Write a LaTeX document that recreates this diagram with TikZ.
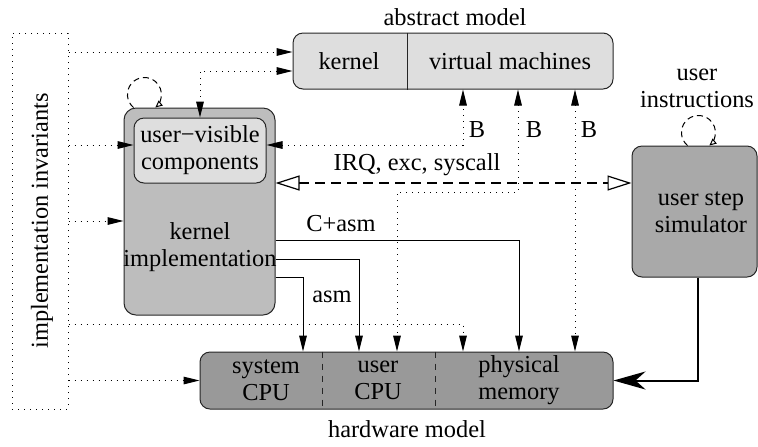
\documentclass[tikz,border=0pt]{standalone}
\usepackage{fontspec}
\newfontfamily\tms{Liberation Serif}
\usetikzlibrary{arrows.meta}

\definecolor{lightfill}{HTML}{DEDEDE}
\definecolor{kernfill}{HTML}{BDBDBD}
\definecolor{simfill}{HTML}{A9A9A9}
\definecolor{hwfill}{HTML}{999999}

\begin{document}
\begin{tikzpicture}[x=0.5pt,y=0.5pt,
  font=\tms\fontsize{12.2}{13.6}\selectfont,
  box/.style={draw=black!85, line width=0.5pt, rounded corners=5pt, inner sep=0pt},
  txt/.style={align=center, inner sep=0pt},
  dots/.style={line width=0.5pt, dash pattern=on 0.5pt off 2.5pt},
  fhead/.style={-{Triangle[length=8pt,width=3.8pt]}},
  bhead/.style={{Triangle[length=8pt,width=3.8pt]}-{Triangle[length=8pt,width=3.8pt]}},
  flow/.style={line width=0.5pt, -{Triangle[length=8pt,width=3.8pt]}},
  loopline/.style={line width=0.5pt, dash pattern=on 3pt off 2pt, -{Triangle[open,length=3.5pt,width=3.2pt]}}
]
\useasboundingbox (0,0) rectangle (758,-446);

% boxes
\node[box, fill=lightfill, minimum width=160pt, minimum height=28pt] (absm) at (453,-61) {};
\node[box, fill=kernfill, rounded corners=6pt, minimum width=75.5pt, minimum height=103.5pt] (kimpl) at (199.5,-211.5) {};
\node[box, fill=lightfill, align=center, minimum width=66pt, minimum height=32.5pt] (uvc) at (200,-150.5) {user−visible\\components};
\node[box, fill=simfill, minimum width=62.5pt, minimum height=65.5pt] (uss) at (694.5,-211.5) {};
\node[box, fill=hwfill, minimum width=206.5pt, minimum height=28.5pt] (hw) at (406.5,-380.5) {};
\node[draw, dots, inner sep=0pt, minimum width=28pt, minimum height=188pt] (inv) at (40,-221) {};

% partitions
\draw[line width=0.5pt, black!85] (absm.north -| 407,0) -- (absm.south -| 407,0);
\draw[line width=0.5pt, black!85, dash pattern=on 3pt off 3pt] (hw.north -| 322,0) -- (hw.south -| 322,0);
\draw[line width=0.5pt, black!85, dash pattern=on 3pt off 3pt] (hw.north -| 435,0) -- (hw.south -| 435,0);

% texts
\node[txt] (absmlabel) at (455,-17) {abstract model};
\node[txt] (kern) at (349,-61) {kernel};
\node[txt] (vm) at (510,-61) {virtual machines};
\node[txt] (kimpltxt) at (200,-247) {kernel\\implementation};
\node[txt] (usstxt) at (701,-212) {user step\\simulator};
\node[txt] (uinstr) at (697,-88) {user\\instructions};
\node[txt] (syscpu) at (266,-380) {system\\CPU};
\node[txt] (usrcpu) at (378,-380) {user\\CPU};
\node[txt] (phys) at (519,-380) {physical\\memory};
\node[txt] (hwlabel) at (407,-429) {hardware model};
\node[txt, rotate=90] (invtxt) at (42,-221) {implementation invariants};
\node[txt] (b1) at (477,-130) {B};
\node[txt] (b2) at (534,-130) {B};
\node[txt] (b3) at (589,-130) {B};
\node[txt] (irq) at (417,-165) {IRQ, exc, syscall};
\node[txt] (casm) at (341,-224) {C+asm};
\node[txt] (asm) at (332,-297) {asm};

% invariants relate the implementation to both models
\draw[dots, fhead] (inv.east |- 0,-52) -- (absm.west |- 0,-52);
\draw[dots, fhead] (inv.east |- 0,-145) -- (uvc.west |- 0,-145);
\draw[dots, fhead] (inv.east |- 0,-221) -- (kimpl.west |- 0,-221);
\draw[dots, fhead] (inv.east |- 0,-324) -| (hw.north -| 463,0);
\draw[dots, fhead] (inv.east |- hw.west) -- (hw.west);
\draw[dots, bhead] (absm.west |- 0,-71) -| (uvc.north);

% B relations
\draw[dots, bhead] (uvc.east |- 0,-145) -| (absm.south -| 463,0);
\draw[dots, bhead] (absm.south -| 518,0) -- (518,-192) -- (397,-192) -- (hw.north -| 397,0);
\draw[dots, bhead] (absm.south -| 575,0) -- (hw.north -| 575,0);

% code running on the hardware
\draw[flow] (kimpl.east |- 0,-240) -| (hw.north -| 519,0);
\draw[flow] (kimpl.east |- 0,-259) -| (hw.north -| 359,0);
\draw[flow] (kimpl.east |- 0,-277) -| (hw.north -| 303,0);

% traps between kernel and user steps
\draw[line width=0.8pt, dash pattern=on 5pt off 3pt,
  {Triangle[open,length=12pt,width=7.5pt,line width=0.6pt]}-{Triangle[open,length=12pt,width=7.5pt,line width=0.6pt]}]
  (kimpl.east |- 0,-183) -- (uss.west |- 0,-183);

% user steps update the hardware state
\draw[line width=1pt, -{Stealth[length=16pt,width=9pt,inset=5pt]}] (uss.south -| 698,0) |- (hw.east);

% self loops
\draw[loopline] ([xshift=5pt]kimpl.north west) arc[start angle=230, end angle=-50, radius=17];
\draw[loopline] ([xshift=28pt]uss.north west) arc[start angle=230, end angle=-50, radius=17];
\end{tikzpicture}
\end{document}
